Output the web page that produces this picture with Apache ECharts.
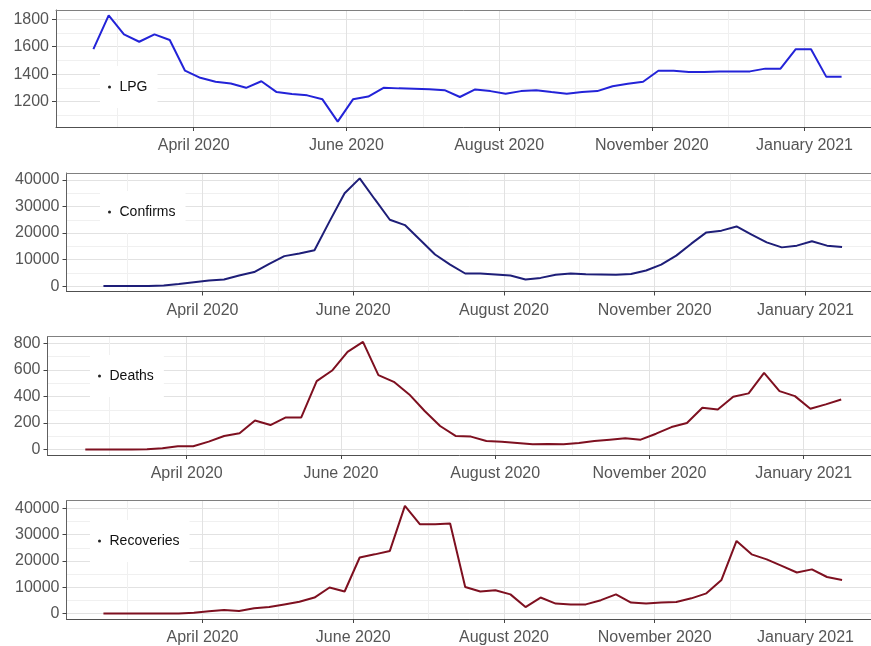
<!DOCTYPE html>
<html>
<head>
<meta charset="utf-8">
<script src="https://cdn.jsdelivr.net/npm/echarts@6/dist/echarts.min.js"></script>
<style>
  html, body { margin: 0; padding: 0; background: #ffffff; }
  #chart { width: 871px; height: 646px; }
</style>
</head>
<body>
<div id="chart"></div>
<script>
// Weekly observation dates
const weeks = [
  '2020-02-19','2020-02-26','2020-03-04','2020-03-11','2020-03-18','2020-03-25',
  '2020-04-01','2020-04-08','2020-04-15','2020-04-22','2020-04-29',
  '2020-05-06','2020-05-13','2020-05-20','2020-05-27',
  '2020-06-03','2020-06-10','2020-06-17','2020-06-24',
  '2020-07-01','2020-07-08','2020-07-15','2020-07-22','2020-07-29',
  '2020-08-05','2020-08-12','2020-08-19','2020-08-26',
  '2020-09-02','2020-09-09','2020-09-16','2020-09-23','2020-09-30',
  '2020-10-07','2020-10-14','2020-10-21','2020-10-28',
  '2020-11-04','2020-11-11','2020-11-18','2020-11-25',
  '2020-12-02','2020-12-09','2020-12-16','2020-12-23','2020-12-30',
  '2021-01-06','2021-01-13','2021-01-20','2021-01-27'
];

// Weekly series
const lpg = [
  1582, 1829, 1690, 1636, 1690, 1649, 1425, 1373, 1344, 1331,
  1300, 1348, 1269, 1255, 1245, 1216, 1053, 1216, 1236, 1300,
  1296, 1294, 1290, 1283, 1233, 1288, 1276, 1257, 1276, 1283,
  1269, 1257, 1269, 1276, 1312, 1329, 1344, 1425, 1425, 1416,
  1416, 1420, 1420, 1420, 1440, 1440, 1582, 1582, 1380, 1380
];
const confirms = [
  0, 0, 0, 0, 250, 800, 1500, 2100, 2500, 4000,
  5300, 8400, 11300, 12300, 13500, 24400, 35000, 40600, 32750, 25000,
  23000, 17500, 11900, 8100, 4750, 4750, 4400, 4000, 2500, 3100,
  4250, 4750, 4500, 4400, 4250, 4600, 5900, 8100, 11500, 16000,
  20250, 20900, 22500, 19400, 16500, 14600, 15250, 16900, 15250, 14750
];
const deaths = [
  0, 0, 0, 0, 2, 10, 25, 25, 60, 103,
  123, 220, 185, 243, 243, 516, 596, 737, 812, 561,
  511, 416, 291, 178, 103, 98, 65, 60, 50, 40,
  43, 40, 50, 65, 75, 85, 75, 120, 170, 200,
  316, 303, 398, 424, 579, 441, 403, 308, 341, 378
];
const recoveries = [
  0, 0, 0, 0, 0, 0, 300, 900, 1400, 1000,
  2000, 2500, 3500, 4500, 6100, 9900, 8400, 21300, 22500, 23800,
  40900, 33900, 33900, 34200, 10100, 8400, 8900, 7300, 2500, 6100,
  3800, 3500, 3500, 5100, 7300, 4200, 3800, 4200, 4400, 5800,
  7700, 12800, 27600, 22500, 20600, 18100, 15600, 16800, 13900, 12800
];

// Axis breaks and labels
const dateBreaks = ['2020-04-05', '2020-06-14', '2020-08-23', '2020-11-01', '2021-01-10'];
const dateBreakLabels = ['April 2020', 'June 2020', 'August 2020', 'November 2020', 'January 2021'];
const dateMinorBreaks = ['2020-03-01', '2020-05-10', '2020-07-19', '2020-09-27', '2020-12-06'];
const lpgTicks = [1200, 1400, 1600, 1800];
const lpgMinorTicks = [1100, 1300, 1500, 1700];
const countTicks = [0, 10000, 20000, 30000, 40000];
const countMinorTicks = [5000, 15000, 25000, 35000];
const deathTicks = [0, 200, 400, 600, 800];
const deathMinorTicks = [100, 300, 500, 700];

const FONT = "'Liberation Sans', Arial, sans-serif";
// dates are placed on a numeric day scale
const DAY = 86400000;
const toDay = s => Math.round(Date.UTC(+s.slice(0, 4), +s.slice(5, 7) - 1, +s.slice(8, 10)) / DAY);

const weekDays = weeks.map(toDay);
const xSpan = weekDays[weekDays.length - 1] - weekDays[0];
const xMin = weekDays[0] - 0.05 * xSpan;
const xMax = weekDays[weekDays.length - 1] + 0.05 * xSpan;
const breakDays = dateBreaks.map(toDay);
const minorDays = dateMinorBreaks.map(toDay);

const panels = [
  { name: 'LPG', values: lpg, color: '#2323d8', ticks: lpgTicks, minor: lpgMinorTicks,
    grid: { left: 56, top: 10, height: 117 }, legend: { left: 100, top: 66 } },
  { name: 'Confirms', values: confirms, color: '#1e1e78', ticks: countTicks, minor: countMinorTicks,
    grid: { left: 66.5, top: 173, height: 118.5 }, legend: { left: 100, top: 191 } },
  { name: 'Deaths', values: deaths, color: '#7e1020', ticks: deathTicks, minor: deathMinorTicks,
    grid: { left: 47.5, top: 336.5, height: 118.5 }, legend: { left: 90, top: 355 } },
  { name: 'Recoveries', values: recoveries, color: '#7e1020', ticks: countTicks, minor: countMinorTicks,
    grid: { left: 66.5, top: 500.5, height: 118.5 }, legend: { left: 90, top: 520 } }
];

const RIGHT_EDGE = 879;
const grid = [], xAxis = [], yAxis = [], series = [], legend = [];

panels.forEach((p, k) => {
  const lo = Math.min(...p.values), hi = Math.max(...p.values);
  const yMin = lo - 0.05 * (hi - lo), yMax = hi + 0.05 * (hi - lo);

  // panel frame runs past the right edge of the canvas
  grid.push({
    left: p.grid.left, top: p.grid.top, width: RIGHT_EDGE - p.grid.left, height: p.grid.height,
    outerBoundsMode: 'none', containLabel: false, show: false
  });

  // main x axis: labelled breaks, bottom frame
  xAxis.push({
    type: 'value', gridIndex: k, min: xMin, max: xMax, position: 'bottom',
    axisLine: { show: true, onZero: false, lineStyle: { color: '#505050', width: 1 } },
    axisTick: { show: true, length: 4, lineStyle: { color: '#444444' }, customValues: breakDays },
    axisLabel: {
      customValues: breakDays, margin: 11, color: '#555555', fontSize: 16, fontFamily: FONT,
      formatter: v => {
        const i = breakDays.indexOf(Math.round(v));
        return i >= 0 ? dateBreakLabels[i] : '';
      }
    },
    splitLine: { show: true, lineStyle: { color: '#e2e2e2', width: 1 } }
  });
  // minor vertical grid lines, top frame
  xAxis.push({
    type: 'value', gridIndex: k, min: xMin, max: xMax, position: 'top',
    axisLine: { show: true, onZero: false, lineStyle: { color: '#808080', width: 1 } },
    axisLabel: { show: false },
    axisTick: { show: false, customValues: minorDays },
    splitLine: { show: true, lineStyle: { color: '#f0f0f0', width: 1 } }
  });

  // main y axis, left frame
  yAxis.push({
    type: 'value', gridIndex: k, min: yMin, max: yMax, position: 'left',
    axisLine: { show: true, onZero: false, lineStyle: { color: '#606060', width: 1 } },
    axisTick: { show: true, length: 4, lineStyle: { color: '#444444' }, customValues: p.ticks },
    axisLabel: {
      customValues: p.ticks, margin: 7, color: '#555555', fontSize: 16, fontFamily: FONT,
      formatter: v => String(Math.round(v))
    },
    splitLine: { show: true, lineStyle: { color: '#e2e2e2', width: 1 } }
  });
  // minor horizontal grid lines
  yAxis.push({
    type: 'value', gridIndex: k, min: yMin, max: yMax, position: 'right',
    axisLine: { show: false, onZero: false }, axisLabel: { show: false },
    axisTick: { show: false, customValues: p.minor },
    splitLine: { show: true, lineStyle: { color: '#f0f0f0', width: 1 } }
  });

  series.push({
    name: p.name, type: 'line', xAxisIndex: 2 * k, yAxisIndex: 2 * k,
    data: weekDays.map((t, i) => [t, p.values[i]]),
    showSymbol: false, symbol: 'circle', symbolSize: 3,
    lineStyle: { color: p.color, width: 2 }, itemStyle: { color: '#222222' },
    animation: false, z: 3
  });

  legend.push({
    data: [p.name], left: p.legend.left, top: p.legend.top, orient: 'vertical',
    backgroundColor: '#ffffff', padding: [14, 10, 14, 8],
    itemWidth: 10, itemHeight: 3, icon: 'circle',
    textStyle: { color: '#111111', fontSize: 14, fontFamily: FONT },
    selectedMode: false
  });
});

const chart = echarts.init(document.getElementById('chart'), null, { renderer: 'canvas' });
chart.setOption({
  animation: false,
  backgroundColor: '#ffffff',
  grid, xAxis, yAxis, series, legend
});
</script>
</body>
</html>
